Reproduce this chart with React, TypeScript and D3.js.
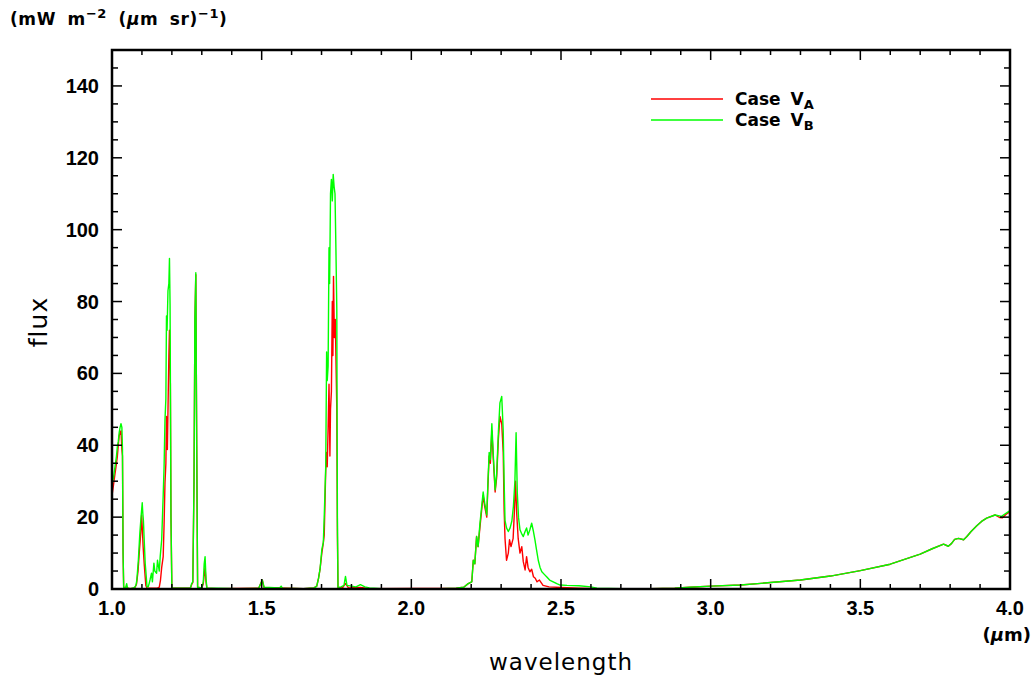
import React from 'react';
import * as d3 from 'd3';

const WIDTH = 1035;
const HEIGHT = 684;

const xMajorTicks = [1.0, 1.5, 2.0, 2.5, 3.0, 3.5, 4.0];
const xTickLabels = ['1.0', '1.5', '2.0', '2.5', '3.0', '3.5', '4.0'];
const yMajorTicks = [0, 20, 40, 60, 80, 100, 120, 140];
const yTickLabels = ['0', '20', '40', '60', '80', '100', '120', '140'];

const seriesNames = ['Case V', 'Case V'];
const seriesSubs = ['A', 'B'];
const seriesColors = ['#ff0000', '#00ff00'];

// Case V_A (red): [wavelength µm, flux]
const caseVA: [number, number][] = [
  [1.000, 26], [1.005, 29], [1.010, 32], [1.015, 35], [1.018, 37], [1.021, 40], [1.024, 42.6], [1.027, 43.5],
  [1.030, 44], [1.033, 38.8], [1.035, 37], [1.037, 10], [1.039, 0.5], [1.060, 0.1], [1.076, 0.3], [1.082, 1.4],
  [1.087, 5], [1.091, 10], [1.096, 15.5], [1.099, 20.6], [1.102, 15.5], [1.104, 11.8], [1.108, 6.5], [1.113, 1],
  [1.117, 0.2], [1.130, 0.2], [1.150, 0.2], [1.158, 0.5], [1.162, 2.5], [1.166, 6], [1.171, 9], [1.174, 18],
  [1.177, 29.5], [1.180, 35], [1.182, 48], [1.185, 38.8], [1.188, 55], [1.190, 64.8], [1.192, 72], [1.195, 57],
  [1.197, 20], [1.200, 0.2], [1.262, 0.3], [1.266, 1.2], [1.270, 1.8], [1.274, 30], [1.277, 75], [1.280, 87.5],
  [1.283, 40], [1.286, 0.5], [1.300, 0.2], [1.305, 1.5], [1.308, 4], [1.311, 6], [1.314, 2], [1.317, 0.2],
  [1.350, 0.1], [1.490, 0.2], [1.502, 2.5], [1.508, 0.4], [1.640, 0.1], [1.675, 0.3], [1.684, 0.8], [1.690, 3],
  [1.695, 5.5], [1.701, 10], [1.706, 12.8], [1.709, 15], [1.714, 33], [1.717, 38], [1.719, 34], [1.722, 45],
  [1.725, 57], [1.728, 37], [1.730, 50], [1.733, 55], [1.736, 80], [1.738, 65], [1.740, 87], [1.743, 70],
  [1.746, 75], [1.749, 60], [1.751, 50], [1.753, 15], [1.755, 0.4], [1.770, 0.3], [1.780, 1.5], [1.790, 0.3],
  [1.830, 0.4], [1.860, 0.1], [2.150, 0.2], [2.175, 0.5], [2.190, 1.5], [2.202, 2], [2.207, 8], [2.212, 7],
  [2.218, 14.6], [2.223, 11.8], [2.229, 17], [2.235, 22], [2.240, 26], [2.245, 23], [2.252, 20], [2.256, 29],
  [2.260, 37], [2.264, 35], [2.269, 44], [2.274, 36], [2.280, 27], [2.285, 31], [2.291, 42], [2.296, 48],
  [2.302, 46], [2.307, 38], [2.310, 22], [2.313, 14], [2.318, 8], [2.324, 10], [2.328, 13.7], [2.333, 11.8],
  [2.340, 14], [2.344, 21], [2.348, 30], [2.352, 21], [2.357, 14], [2.363, 10], [2.369, 11.8], [2.374, 7.6],
  [2.380, 5.3], [2.385, 9], [2.390, 6], [2.396, 4.8], [2.402, 5.5], [2.408, 3.4], [2.414, 3], [2.420, 2],
  [2.428, 2.5], [2.440, 1], [2.460, 0.6], [2.500, 0.4], [2.560, 0.2], [2.620, 0.1], [2.700, 0.1], [2.800, 0.1],
  [2.880, 0.2], [2.930, 0.5], [3.000, 0.8], [3.100, 1.1], [3.200, 1.8], [3.300, 2.5], [3.400, 3.6], [3.500, 5.1],
  [3.600, 6.9], [3.700, 9.7], [3.740, 11.2], [3.778, 12.5], [3.794, 11.9], [3.805, 12.7], [3.815, 13.8],
  [3.828, 14.1], [3.845, 13.7], [3.856, 14.6], [3.870, 16], [3.889, 17.6], [3.905, 18.8], [3.922, 19.7],
  [3.950, 20.6], [3.965, 19.9], [3.975, 19.8], [3.990, 21], [4.000, 21.5],
];

// Case V_B (green): [wavelength µm, flux]
const caseVB: [number, number][] = [
  [1.000, 29], [1.005, 31], [1.010, 34], [1.015, 37], [1.018, 39.7], [1.021, 41], [1.024, 43.5], [1.027, 45],
  [1.030, 46], [1.033, 45], [1.035, 39], [1.037, 10], [1.039, 0.5], [1.045, 0.2], [1.049, 1.5], [1.052, 0.2],
  [1.060, 0.1], [1.070, 0.2], [1.076, 0.5], [1.080, 1], [1.083, 2.5], [1.088, 8], [1.093, 15.5], [1.097, 20],
  [1.099, 22], [1.101, 24], [1.103, 21], [1.105, 19], [1.108, 12.8], [1.111, 7], [1.113, 5], [1.117, 0.6],
  [1.121, 0.6], [1.124, 1.5], [1.127, 2.5], [1.132, 4.4], [1.135, 2], [1.140, 7.2], [1.143, 5], [1.149, 4.4],
  [1.152, 8], [1.158, 5], [1.161, 9], [1.166, 13.7], [1.171, 26], [1.174, 34], [1.177, 47], [1.180, 53],
  [1.182, 76], [1.184, 72], [1.187, 83], [1.190, 85], [1.192, 92], [1.194, 79], [1.197, 20], [1.200, 0.3],
  [1.230, 0.2], [1.262, 0.3], [1.266, 1.5], [1.270, 2], [1.274, 30], [1.277, 75], [1.280, 88], [1.283, 40],
  [1.286, 0.5], [1.300, 0.3], [1.305, 2], [1.308, 7], [1.311, 9], [1.314, 3], [1.317, 0.3], [1.350, 0.2],
  [1.420, 0.1], [1.490, 0.2], [1.502, 2.5], [1.508, 0.5], [1.560, 0.3], [1.565, 0.8], [1.570, 0.2], [1.640, 0.1],
  [1.675, 0.3], [1.684, 0.8], [1.690, 3], [1.695, 5.5], [1.701, 11], [1.706, 13], [1.709, 20], [1.714, 34],
  [1.717, 66], [1.719, 58], [1.722, 62], [1.725, 95], [1.727, 85], [1.730, 110], [1.733, 114], [1.736, 108],
  [1.739, 115.4], [1.742, 112], [1.745, 110], [1.748, 95], [1.751, 78], [1.753, 20], [1.755, 0.5], [1.765, 0.6],
  [1.775, 1], [1.780, 3.5], [1.785, 1], [1.800, 0.8], [1.815, 0.6], [1.830, 1.2], [1.845, 0.6], [1.860, 0.3],
  [1.900, 0.1], [2.000, 0.1], [2.100, 0.1], [2.150, 0.2], [2.175, 0.5], [2.190, 1.5], [2.202, 2], [2.207, 8],
  [2.212, 7], [2.218, 14.6], [2.223, 11.8], [2.229, 18], [2.235, 23], [2.240, 27], [2.245, 24], [2.252, 20.6],
  [2.256, 30], [2.260, 38], [2.264, 36], [2.269, 46], [2.274, 37], [2.280, 27.6], [2.285, 32], [2.291, 44],
  [2.296, 51.8], [2.302, 53.6], [2.307, 44], [2.310, 30], [2.313, 19], [2.318, 17], [2.324, 16], [2.330, 17],
  [2.336, 19], [2.341, 23], [2.346, 30], [2.350, 43.5], [2.354, 26.7], [2.358, 20], [2.363, 16.5], [2.368, 15.5],
  [2.374, 14.6], [2.380, 16], [2.385, 17], [2.390, 15], [2.396, 16.5], [2.402, 18.3], [2.408, 16], [2.413, 13.7],
  [2.418, 11], [2.424, 8], [2.430, 6], [2.436, 4.8], [2.445, 4], [2.452, 3.4], [2.462, 2.5], [2.474, 2],
  [2.486, 1.5], [2.497, 1.1], [2.520, 1], [2.560, 0.9], [2.600, 0.6], [2.620, 0.2], [2.700, 0.1], [2.800, 0.1],
  [2.880, 0.2], [2.930, 0.5], [3.000, 0.8], [3.100, 1.1], [3.200, 1.8], [3.300, 2.5], [3.400, 3.6], [3.500, 5.1],
  [3.600, 6.9], [3.700, 9.7], [3.740, 11.2], [3.778, 12.5], [3.794, 11.9], [3.805, 12.7], [3.815, 13.8],
  [3.828, 14.1], [3.845, 13.7], [3.856, 14.6], [3.870, 16], [3.889, 17.6], [3.905, 18.8], [3.922, 19.7],
  [3.950, 20.6], [3.972, 20.2], [3.985, 21], [4.000, 21.8],
];

const series = [caseVA, caseVB];

export default function App() {
  const left = 112, right = 1010, top = 50, bottom = 589;
  const x = d3.scaleLinear().domain([1, 4]).range([left, right]);
  const y = d3.scaleLinear().domain([0, 150]).range([bottom, top]);
  const line = d3.line<[number, number]>().x(d => x(d[0])).y(d => y(d[1]));

  const xMinor = x.ticks(30);
  const yMinor = y.ticks(30);
  const isMajorX = (v: number) => xMajorTicks.some(m => Math.abs(m - v) < 1e-6);
  const isMajorY = (v: number) => yMajorTicks.some(m => Math.abs(m - v) < 1e-6);

  const tickFont = { fontFamily: '"Liberation Sans", Arial, sans-serif', fontWeight: 700 as const, fontSize: 20 };
  const labelFont = { fontFamily: '"DejaVu Sans", sans-serif', fontWeight: 700 as const, fontSize: 17 };
  const titleFont = { fontFamily: '"DejaVu Sans", sans-serif', fontSize: 23 };

  return (
    <svg width={WIDTH} height={HEIGHT} style={{ position: 'absolute', left: 0, top: 0, background: '#fff' }}>
      <defs>
        <clipPath id="plotclip">
          <rect x={left} y={top} width={right - left} height={bottom - top} />
        </clipPath>
      </defs>
      <rect x={0} y={0} width={WIDTH} height={HEIGHT} fill="#fff" />

      <g clipPath="url(#plotclip)">
        {series.map((s, i) => (
          <path key={i} d={line(s) || ''} fill="none" stroke={seriesColors[i]} strokeWidth={1.4} strokeLinejoin="round" />
        ))}
      </g>

      {/* ticks */}
      <g stroke="#000" strokeWidth={1.5}>
        {xMinor.map((v, i) => {
          const len = isMajorX(v) ? 10 : 5;
          return (
            <g key={'x' + i}>
              <line x1={x(v)} x2={x(v)} y1={bottom} y2={bottom - len} />
              <line x1={x(v)} x2={x(v)} y1={top} y2={top + len} />
            </g>
          );
        })}
        {yMinor.map((v, i) => {
          const len = isMajorY(v) ? 10 : 6;
          return (
            <g key={'y' + i}>
              <line x1={left} x2={left + len} y1={y(v)} y2={y(v)} />
              <line x1={right} x2={right - len} y1={y(v)} y2={y(v)} />
            </g>
          );
        })}
      </g>

      <rect x={left} y={top} width={right - left} height={bottom - top} fill="none" stroke="#000" strokeWidth={2.5} />

      {/* tick labels */}
      {xMajorTicks.map((v, i) => (
        <text key={'xl' + i} x={x(v)} y={615} textAnchor="middle" {...tickFont}>{xTickLabels[i]}</text>
      ))}
      {yMajorTicks.map((v, i) => (
        <text key={'yl' + i} x={99} y={y(v) + 7} textAnchor="end" {...tickFont}>{yTickLabels[i]}</text>
      ))}

      {/* axis titles */}
      <text x={561} y={670} textAnchor="middle" letterSpacing={1} {...titleFont}>wavelength</text>
      <text transform="translate(47,322) rotate(-90)" textAnchor="middle" letterSpacing={1} {...titleFont} fontSize={25}>flux</text>
      <text x={1031} y={641} textAnchor="end" {...labelFont} fontSize={18}>
        (<tspan fontStyle="italic">µ</tspan>m)
      </text>
      <text x={10} y={25} {...labelFont} letterSpacing={0.6} wordSpacing={5}>
        (mW m<tspan dy={-7} fontSize={13}>−2</tspan><tspan dy={7}> (</tspan><tspan fontStyle="italic">µ</tspan>m sr)<tspan dy={-7} fontSize={13}>−1</tspan><tspan dy={7}>)</tspan>
      </text>

      {/* legend */}
      {series.map((_, i) => (
        <g key={'lg' + i}>
          <line x1={651} x2={723} y1={99 + i * 21} y2={99 + i * 21} stroke={seriesColors[i]} strokeWidth={1.4} />
          <text x={735} y={105 + i * 21} {...labelFont} fontWeight={600} wordSpacing={4}>
            {seriesNames[i]}<tspan dy={4} fontSize={13}>{seriesSubs[i]}</tspan>
          </text>
        </g>
      ))}
    </svg>
  );
}
